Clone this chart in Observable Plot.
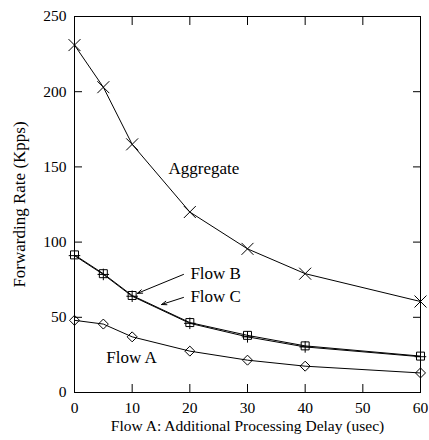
<!DOCTYPE html>
<html>
<head>
<meta charset="utf-8">
<script src="https://cdn.jsdelivr.net/npm/d3@7"></script>
<script src="https://cdn.jsdelivr.net/npm/@observablehq/plot@0.6"></script>
<style>
  html, body { margin: 0; padding: 0; background: #fff; }
  svg { display: block; }
</style>
</head>
<body>
<div id="chart"></div>
<script>
const delays = [0, 5, 10, 20, 30, 40, 60];
const aggregate = [231, 203, 165, 120, 95.5, 79, 60.5];
const flowB = [91.5, 79, 64.5, 46.5, 38, 31, 24.2];
const flowC = [91, 78.5, 64, 46, 37, 30.3, 23.8];
const flowA = [48, 45.5, 37, 27.5, 21.5, 17.5, 13];

const xTicks = [0, 10, 20, 30, 40, 50, 60];
const yTicks = [0, 50, 100, 150, 200, 250];
const xLabel = "Flow A: Additional Processing Delay (usec)";
const yLabel = "Forwarding Rate (Kpps)";

const seriesLabels = [
  {text: "Aggregate", x: 16.3, y: 149},
  {text: "Flow B", x: 20.1, y: 79.2},
  {text: "Flow C", x: 20.1, y: 63.9},
  {text: "Flow A", x: 5.5, y: 23.5}
];
const arrows = [
  {x1: 18.9, y1: 78.5, x2: 10.9, y2: 65.9},
  {x1: 18.9, y1: 63.2, x2: 15.1, y2: 58.5}
];

const toRows = (vals) => delays.map((d, i) => ({x: d, y: vals[i]}));
const rowsAgg = toRows(aggregate);
const rowsB = toRows(flowB);
const rowsC = toRows(flowC);
const rowsA = toRows(flowA);

const font = "Liberation Serif, Times New Roman, serif";
const fsTick = 15.5;
const fsNote = 17;
const innerTicksX = xTicks.slice(1, -1);
const innerTicksY = yTicks.slice(1, -1);

const chart = Plot.plot({
  width: 429,
  height: 440,
  marginLeft: 74,
  marginRight: 9,
  marginTop: 16,
  marginBottom: 48,
  style: {fontFamily: font, fontSize: fsTick + "px", background: "white", color: "black"},
  x: {domain: [0, 60], ticks: xTicks},
  y: {domain: [0, 250], ticks: yTicks},
  marks: [
    Plot.axisX({ticks: xTicks, tickSize: 0, tickPadding: 9, label: null, fontSize: fsTick}),
    Plot.axisY({ticks: yTicks, tickSize: 0, tickPadding: 8, label: null, fontSize: fsTick}),
    Plot.axisX({anchor: "bottom", ticks: innerTicksX, tickSize: -8, text: null, label: null}),
    Plot.axisX({anchor: "top", ticks: innerTicksX, tickSize: -8, text: null, label: null}),
    Plot.axisY({anchor: "left", ticks: innerTicksY, tickSize: -8, text: null, label: null}),
    Plot.axisY({anchor: "right", ticks: innerTicksY, tickSize: -8, text: null, label: null}),
    Plot.frame({stroke: "black", strokeWidth: 1}),
    Plot.line(rowsAgg, {x: "x", y: "y", stroke: "black", strokeWidth: 1}),
    Plot.line(rowsB, {x: "x", y: "y", stroke: "black", strokeWidth: 1}),
    Plot.line(rowsC, {x: "x", y: "y", stroke: "black", strokeWidth: 1}),
    Plot.line(rowsA, {x: "x", y: "y", stroke: "black", strokeWidth: 1}),
    Plot.dot(rowsAgg, {x: "x", y: "y", symbol: "times", r: 5.5, stroke: "black", strokeWidth: 1}),
    Plot.dot(rowsB, {x: "x", y: "y", symbol: "square", r: 4.5, stroke: "black", fill: "none", strokeWidth: 1}),
    Plot.dot(rowsC, {x: "x", y: "y", symbol: "plus", r: 3.8, stroke: "black", strokeWidth: 1}),
    Plot.dot(rowsA, {x: "x", y: "y", symbol: "diamond2", r: 4.5, stroke: "black", fill: "none", strokeWidth: 1}),
    Plot.text(seriesLabels, {x: "x", y: "y", text: "text", textAnchor: "start", fontSize: fsNote, fill: "black"}),
    Plot.arrow(arrows, {x1: "x1", y1: "y1", x2: "x2", y2: "y2", stroke: "black", strokeWidth: 1, headLength: 8, headAngle: 40}),
    Plot.text([xLabel], {frameAnchor: "bottom", text: d => d, dy: 38, fontSize: 15.5, fill: "black"}),
    Plot.text([yLabel], {frameAnchor: "left", text: d => d, textAnchor: "middle", rotate: -90, dx: -55, fontSize: 17, fill: "black"})
  ]
});
document.getElementById("chart").appendChild(chart);
</script>
</body>
</html>
